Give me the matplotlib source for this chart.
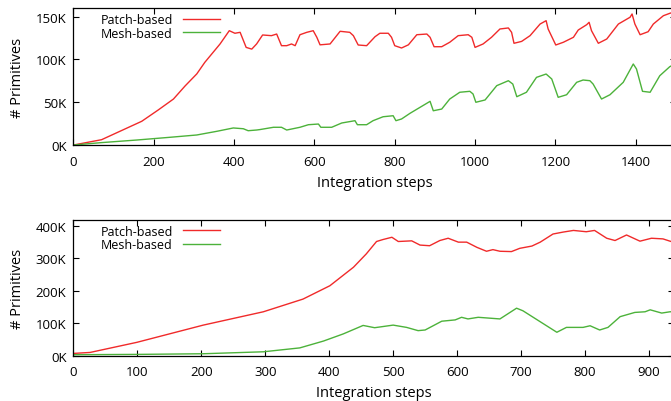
import matplotlib
matplotlib.use("Agg")
import matplotlib.pyplot as plt

plt.rcParams['font.family'] = ['Open Sans', 'DejaVu Sans']

# top panel: primitives (in K) over integration steps
top_patch_x = [0, 70, 170, 211, 249, 278, 307, 327, 365, 388, 402, 415, 430, 444, 456, 471,
               493, 506, 518, 531, 543, 552, 564, 581, 597, 606, 614, 639, 664, 688, 697,
               709, 730, 751, 763, 784, 792, 800, 817, 834, 855, 880, 888, 898, 917, 937,
               958, 983, 992, 1000, 1020, 1041, 1062, 1083, 1091, 1097, 1116, 1137, 1162,
               1177, 1182, 1201, 1220, 1245, 1257, 1278, 1284, 1290, 1307, 1328, 1357, 1386,
               1391, 1398, 1411, 1431, 1444, 1469, 1485, 1500]
top_patch_y = [0, 6.2, 27.7, 40.9, 53.7, 69, 83, 96.5, 118, 133.5, 130.5, 131.6, 114, 112, 118, 128.5,
               127.7, 129.6, 116, 116, 118, 116, 128.8, 131.6, 133.5, 125.8, 117, 118, 132.8, 131.6, 127.7,
               116.8, 116, 126.5, 130.5, 130.5, 125.8, 116, 113.3, 117, 128.8, 129.6, 125.8, 114.8, 114.8, 120,
               127.7, 128.8, 125.8, 114, 118, 125.8, 135.5, 136.7, 131.6, 118.8, 121, 127.7, 141.3,
               145.2, 135.5, 116.8, 120, 125.8, 134.3, 140.5, 143.3, 133.5, 118.8, 123.8, 141.3, 149.2,
               153, 141.3, 128.8, 132.3, 141.3, 151, 153.8, 156]

top_mesh_x = [0, 70, 157, 240, 307, 357, 398, 423, 435, 456, 464, 498, 518, 531, 564, 585, 610,
              616, 643, 668, 701, 707, 730, 746, 771, 796, 803, 817, 838, 863, 888, 896, 917,
              937, 962, 987, 995, 1002, 1025, 1054, 1083, 1094, 1104, 1128, 1153, 1177, 1191,
              1207, 1228, 1253, 1269, 1286, 1294, 1315, 1336, 1369, 1394, 1402, 1417, 1436,
              1460, 1485, 1500]
top_mesh_y = [0, 2.8, 5.8, 9, 11.7, 16, 19.9, 19, 16.7, 17.5, 18, 20.7, 20.7, 17.5, 20.7, 23.7, 24.5,
              20.7, 20.7, 25.7, 28.4, 23.7, 23.7, 28.4, 33, 34.2, 28.4, 30.4, 37, 44, 51, 40, 42,
              53.7, 61.6, 62.7, 59.6, 49.9, 52.6, 69.3, 75.1, 71.2, 56.4, 61.6, 79, 82.9, 77.1,
              55.7, 58.7, 73.2, 75.9, 75.1, 71.2, 53.7, 58.7, 73.2, 94.6, 88.8, 62.7, 61.6,
              80.9, 91.5, 95]

top_yticks = [0, 50, 100, 150]
top_xticks = [0, 200, 400, 600, 800, 1000, 1200, 1400]

# bottom panel
bot_patch_x = [0, 26, 99, 203, 297, 359, 401, 438, 458, 474, 484, 498, 508, 529, 542, 557, 573,
               586, 602, 615, 631, 646, 656, 667, 685, 698, 717, 730, 750, 766, 782, 802, 815,
               834, 847, 865, 886, 904, 922, 933, 940]
bot_patch_y = [7, 10, 41, 94, 135, 174, 215, 272, 313, 351, 357, 364, 351, 353, 340, 338, 354,
               361, 349, 349, 333, 321, 326, 321, 320, 330, 337, 349, 374, 380, 385, 381, 385,
               361, 354, 371, 352, 361, 359, 352, 348]

bot_mesh_x = [0, 100, 203, 297, 354, 391, 422, 453, 471, 500, 521, 539, 550, 576, 597, 607, 617,
              633, 667, 693, 703, 756, 771, 797, 808, 823, 836, 855, 878, 894, 902, 920, 933, 940]
bot_mesh_y = [3, 4, 6, 12, 24, 45, 67, 93, 86, 94, 87, 77, 79, 106, 110, 118, 113,
              118, 113, 146, 138, 72, 87, 87, 92, 79, 87, 120, 133, 135, 141, 131, 135, 135]

bot_yticks = [0, 100, 200, 300, 400]
bot_xticks = [0, 100, 200, 300, 400, 500, 600, 700, 800, 900]

red = '#f02a2a'
green = '#4cb23a'

fig = plt.figure(figsize=(6.71, 4.02), dpi=100)
ax1 = fig.add_axes([0.1095, 0.6368, 0.8977, 0.3408])
ax2 = fig.add_axes([0.1095, 0.1127, 0.8957, 0.3383])

panels = [
    (ax1, top_patch_x, top_patch_y, top_mesh_x, top_mesh_y, top_xticks, top_yticks, 1500, 160),
    (ax2, bot_patch_x, bot_patch_y, bot_mesh_x, bot_mesh_y, bot_xticks, bot_yticks, 940, 418),
]

for ax, px, py, mx, my, xt, yt, xmax, ymax in panels:
    ax.plot(px, py, color=red, lw=1.0, label='Patch-based')
    ax.plot(mx, my, color=green, lw=1.0, label='Mesh-based')
    ax.set_xlim(0, xmax)
    ax.set_ylim(0, ymax)
    ax.set_xticks(xt)
    ax.set_yticks(yt)
    ax.set_yticklabels([f'{v}K' for v in yt])
    ax.tick_params(direction='in', length=4, width=0.8, top=True, right=True,
                   labelsize=9.5)
    ax.tick_params(axis='x', pad=7)
    ax.tick_params(axis='y', pad=5)
    for s in ax.spines.values():
        s.set_linewidth(0.9)
    ax.set_xlabel('Integration steps', fontsize=10.5, labelpad=5)
    ax.set_ylabel('# Primitives', fontsize=10.5, labelpad=8)
    ax.legend(loc='upper left', bbox_to_anchor=(0.045, 0.963), frameon=False,
              markerfirst=False, fontsize=9, handlelength=3.0, handletextpad=0.8,
              labelspacing=0.05, borderpad=0, borderaxespad=0)

fig.savefig('out.png', dpi=100)
